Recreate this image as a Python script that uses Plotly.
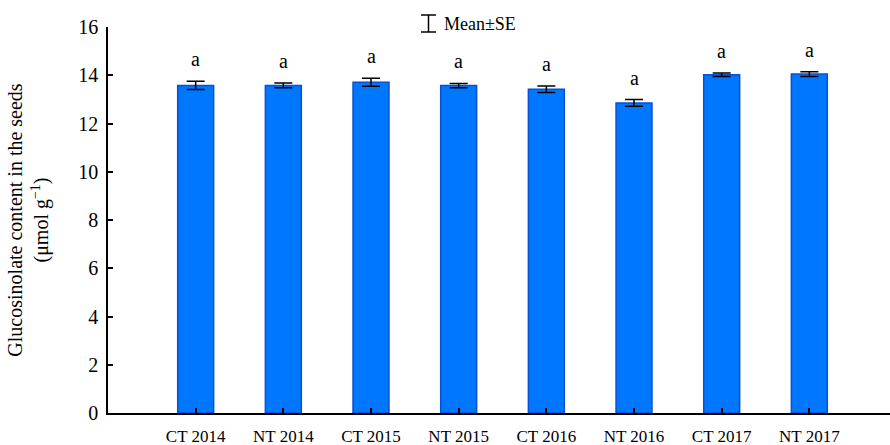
import plotly.graph_objects as go

# Seed glucosinolate content by tillage system and year
treatments = ["CT 2014", "NT 2014", "CT 2015", "NT 2015", "CT 2016", "NT 2016", "CT 2017", "NT 2017"]
means = [13.58, 13.58, 13.71, 13.57, 13.42, 12.85, 14.02, 14.05]
se = [0.17, 0.10, 0.17, 0.09, 0.13, 0.14, 0.07, 0.10]
letters = ["a", "a", "a", "a", "a", "a", "a", "a"]

FONT = "Liberation Serif"
W, H = 890, 445
L, T, B, R = 108, 27, 32, 0

fig = go.Figure()
fig.add_trace(go.Bar(
    x=treatments, y=means, width=0.41,
    marker=dict(color="#0077ff", line=dict(color="#0a4fd0", width=1.5)),
    error_y=dict(type="data", array=se, visible=True, color="black", thickness=1.5, width=9),
    showlegend=False,
))

for t, m, s, lab in zip(treatments, means, se, letters):
    fig.add_annotation(x=t, y=m + s, text=lab, showarrow=False, yanchor="bottom", yshift=9,
                       font=dict(family=FONT, size=20, color="black"))

# "Mean±SE" key drawn above the plot
def px_x(p):
    return (p - L) / (W - L - R)

def px_y(p):
    return (H - B - p) / (H - B - T)

key = dict(color="black", width=1.5)
fig.add_shape(type="line", xref="paper", yref="paper", x0=px_x(428.5), x1=px_x(428.5), y0=px_y(15), y1=px_y(32), line=key)
fig.add_shape(type="line", xref="paper", yref="paper", x0=px_x(421), x1=px_x(436), y0=px_y(15), y1=px_y(15), line=key)
fig.add_shape(type="line", xref="paper", yref="paper", x0=px_x(421), x1=px_x(436), y0=px_y(32), y1=px_y(32), line=key)
fig.add_annotation(xref="paper", yref="paper", x=px_x(442), y=px_y(24), text="Mean±SE", showarrow=False,
                   xanchor="left", yanchor="middle", font=dict(family=FONT, size=18, color="black"))

fig.update_layout(
    width=W, height=H,
    margin=dict(l=L, r=R, t=T, b=B),
    paper_bgcolor="white", plot_bgcolor="white",
    font=dict(family=FONT, color="black"),
    xaxis=dict(range=[-1, 7.92], showline=True, linecolor="black", linewidth=1.5,
               ticks="inside", ticklen=5, tickwidth=1.5, tickcolor="black", automargin=False,
               tickfont=dict(family=FONT, size=17), ticklabelstandoff=7, showgrid=False),
    yaxis=dict(range=[0, 16], dtick=2, showline=True, linecolor="black", linewidth=1.5,
               ticks="inside", ticklen=5, tickwidth=1.5, tickcolor="black", automargin=False,
               tickfont=dict(family=FONT, size=20), ticklabelstandoff=4, showgrid=False, zeroline=False,
               title=dict(text="Glucosinolate content in the seeds<br>(μmol g<sup>−1</sup>)",
                          font=dict(family=FONT, size=20), standoff=24)),
)

fig.write_html("out.html")
